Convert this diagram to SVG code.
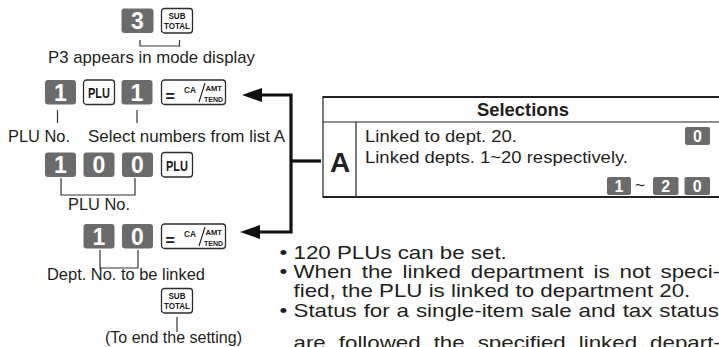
<svg xmlns="http://www.w3.org/2000/svg" xmlns:xlink="http://www.w3.org/1999/xlink" width="719" height="347" viewBox="0 0 719 347">
<style>
.t{font-family:"Liberation Sans",Arial,sans-serif;font-size:17px;fill:#231f20}
.tb{font-family:"Liberation Sans",Arial,sans-serif;font-weight:bold;fill:#231f20}
.dk{fill:#6b6b6b}
.dt{font-family:"Liberation Sans",Arial,sans-serif;font-weight:bold;font-size:23px;fill:#fff;text-anchor:middle}
.st{font-family:"Liberation Sans",Arial,sans-serif;font-weight:bold;font-size:16px;fill:#fff;text-anchor:middle}
.ok{fill:#fff;stroke:#2b2b2b;stroke-width:1.3}
.kt{font-family:"Liberation Sans",Arial,sans-serif;font-weight:bold;fill:#1a1a1a}
.thin{fill:none;stroke:#333;stroke-width:1.2}
.conn{fill:none;stroke:#111;stroke-width:3.2;stroke-linejoin:miter}
.bt{font-family:"Liberation Sans",Arial,sans-serif;font-size:18.6px;fill:#231f20}
</style>
<defs>
<marker id="arr" markerUnits="userSpaceOnUse" markerWidth="20" markerHeight="14" refX="12" refY="7" orient="auto-start-reverse">
<path d="M0,0 L20,7 L0,14 z" fill="#111"/>
</marker>
<g id="k-sub">
<rect class="ok" x="0" y="0" width="31" height="24.5" rx="3"/>
<text class="kt" x="7" y="10.8" font-size="9" textLength="17" lengthAdjust="spacingAndGlyphs">SUB</text>
<text class="kt" x="2.5" y="20.3" font-size="9.5" textLength="26" lengthAdjust="spacingAndGlyphs">TOTAL</text>
</g>
<g id="k-plu">
<rect class="ok" x="0" y="0" width="31" height="24.5" rx="3"/>
<text class="kt" x="4.5" y="18" font-size="14" textLength="22" lengthAdjust="spacingAndGlyphs">PLU</text>
</g>
<g id="k-ca">
<rect class="ok" x="0" y="0" width="64" height="24.5" rx="3"/>
<text class="kt" x="4" y="22" font-size="16">=</text>
<text class="kt" x="22.5" y="12.5" font-size="9.5" textLength="12" lengthAdjust="spacingAndGlyphs">CA</text>
<line x1="43.5" y1="3" x2="37.5" y2="22" stroke="#1a1a1a" stroke-width="1.1"/>
<text class="kt" x="44" y="11" font-size="8" textLength="16.5" lengthAdjust="spacingAndGlyphs">AMT</text>
<text class="kt" x="42.5" y="21.5" font-size="8" textLength="19" lengthAdjust="spacingAndGlyphs">TEND</text>
</g>
</defs>

<g id="step1">
<g id="key-3"><rect class="dk" x="121.5" y="8.5" width="32" height="24.5" rx="3"/><text class="dt" x="137.5" y="29">3</text></g>
<g id="key-subtotal-1"><use xlink:href="#k-sub" transform="translate(161.5,8.5)"/></g>
<path class="thin" d="M140,40 V46 H179.5 V40"/>
<text class="t" x="48" y="63" textLength="207" lengthAdjust="spacingAndGlyphs">P3 appears in mode display</text>
</g>

<g id="step2">
<g id="key-1a"><rect class="dk" x="45" y="80" width="31" height="24.5" rx="3"/><text class="dt" x="60.5" y="100.5">1</text></g>
<g id="key-plu-1"><use xlink:href="#k-plu" transform="translate(83.5,80)"/></g>
<g id="key-1b"><rect class="dk" x="121.5" y="80" width="31" height="24.5" rx="3"/><text class="dt" x="137" y="100.5">1</text></g>
<g id="key-ca-1"><use xlink:href="#k-ca" transform="translate(161.5,80)"/></g>
<path class="thin" d="M57.5,110 V123 M137,110 V123"/>
<text class="t" x="8" y="142" textLength="62" lengthAdjust="spacingAndGlyphs">PLU No.</text>
<text class="t" x="88" y="142" textLength="197" lengthAdjust="spacingAndGlyphs">Select numbers from list A</text>
</g>

<g id="step3">
<g id="key-1c"><rect class="dk" x="45" y="152.5" width="31" height="24.5" rx="3"/><text class="dt" x="60.5" y="173">1</text></g>
<g id="key-0a"><rect class="dk" x="83.5" y="152.5" width="31" height="24.5" rx="3"/><text class="dt" x="99" y="173">0</text></g>
<g id="key-0b"><rect class="dk" x="122" y="152.5" width="31" height="24.5" rx="3"/><text class="dt" x="137.5" y="173">0</text></g>
<g id="key-plu-2"><use xlink:href="#k-plu" transform="translate(161.5,152.5)"/></g>
<path class="thin" d="M61,178 V195 H135 V178"/>
<text class="t" x="68" y="210" textLength="62" lengthAdjust="spacingAndGlyphs">PLU No.</text>
</g>

<g id="step4">
<g id="key-1d"><rect class="dk" x="83.5" y="224" width="31" height="24.5" rx="3"/><text class="dt" x="99" y="244.5">1</text></g>
<g id="key-0c"><rect class="dk" x="122" y="224" width="31" height="24.5" rx="3"/><text class="dt" x="137.5" y="244.5">0</text></g>
<g id="key-ca-2"><use xlink:href="#k-ca" transform="translate(161.5,224)"/></g>
<path class="thin" d="M100,250 V268 H138 V250"/>
<text class="t" x="47" y="280" textLength="158" lengthAdjust="spacingAndGlyphs">Dept. No. to be linked</text>
</g>

<g id="step5">
<g id="key-subtotal-2"><use xlink:href="#k-sub" transform="translate(161.5,288.5)"/></g>
<path class="thin" d="M177,317 V332"/>
<text class="t" x="105" y="343" textLength="137" lengthAdjust="spacingAndGlyphs">(To end the setting)</text>
</g>

<g id="selections-table">
<path fill="none" stroke="#222" stroke-width="2" d="M322.5,97 H719 M322.5,197 H719"/>
<path fill="none" stroke="#222" stroke-width="1.2" d="M322.5,122 H719 M323,97 V197 M356,122 V197"/>
<text class="tb" x="477" y="116" font-size="17.5" textLength="92" lengthAdjust="spacingAndGlyphs">Selections</text>
<text class="tb" x="340" y="172" font-size="28" text-anchor="middle">A</text>
<text class="t" x="365" y="142" font-size="17.5" textLength="152" lengthAdjust="spacingAndGlyphs">Linked to dept. 20.</text>
<text class="t" x="365" y="163" font-size="17.5" textLength="263" lengthAdjust="spacingAndGlyphs">Linked depts. 1~20 respectively.</text>
<g id="tkey-0a"><rect class="dk" x="685" y="127" width="25" height="18" rx="2"/><text class="st" x="697.5" y="142">0</text></g>
<g id="tkey-1"><rect class="dk" x="607" y="177" width="24" height="18" rx="2"/><text class="st" x="619" y="192">1</text></g>
<text class="t" x="635" y="191" font-size="14">~</text>
<g id="tkey-2"><rect class="dk" x="653" y="177" width="25.5" height="18" rx="2"/><text class="st" x="665.8" y="192">2</text></g>
<g id="tkey-0b"><rect class="dk" x="684.5" y="177" width="25.5" height="18" rx="2"/><text class="st" x="697.3" y="192">0</text></g>
</g>

<g id="connectors">
<path class="conn" d="M250,95 H291 V232 H248" marker-start="url(#arr)" marker-end="url(#arr)"/>
<path class="conn" d="M291,161 H321"/>
</g>

<g id="notes" transform="scale(1.2,1)">
<text class="bt" x="232.9" y="259">•</text>
<text class="bt" x="244.6" y="259">120 PLUs can be set.</text>
<text class="bt" x="232.9" y="278">•</text>
<text class="bt" x="244.6" y="278" word-spacing="3.1">When the linked department is not speci-</text>
<text class="bt" x="244.6" y="297">fied, the PLU is linked to department 20.</text>
<text class="bt" x="232.9" y="317">•</text>
<text class="bt" x="244.6" y="317" word-spacing="0.6">Status for a single-item sale and tax status</text>
<text class="bt" x="244.6" y="349" word-spacing="5.7">are followed the specified linked depart-</text>
</g>
</svg>
